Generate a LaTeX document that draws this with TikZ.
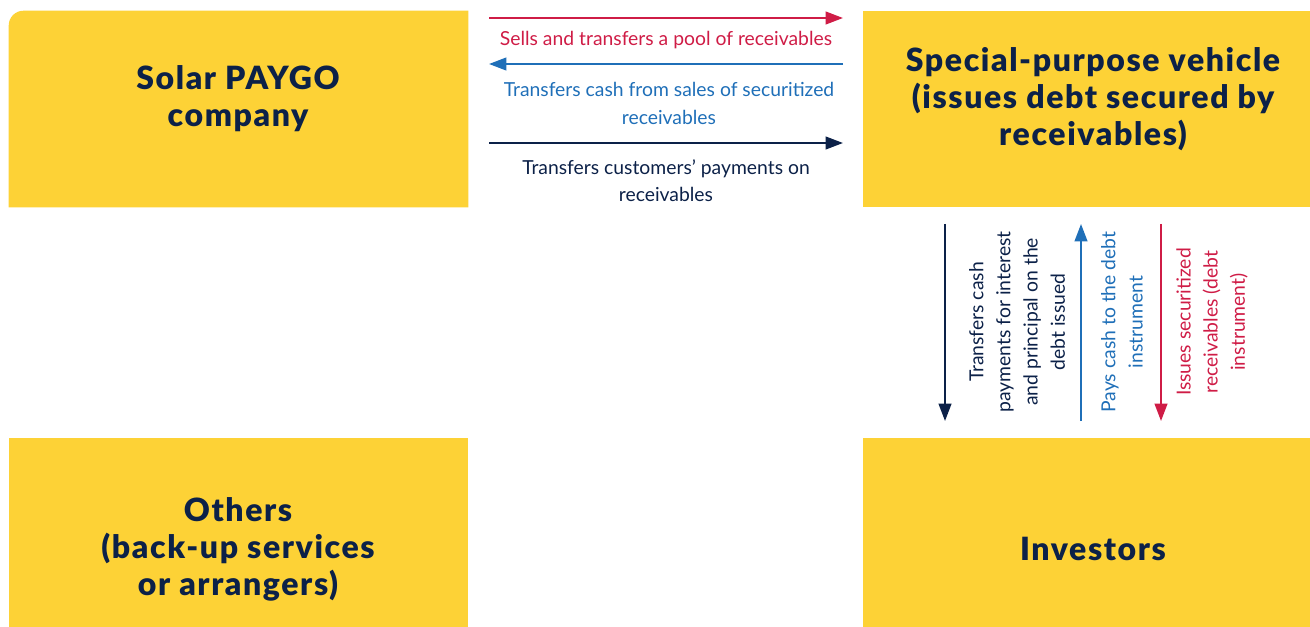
\documentclass[tikz,border=0pt]{standalone}
\usepackage{fontspec}
\setmainfont{Lato}
\newfontfamily\heavyfont{Lato Black}[LetterSpace=5]
\usetikzlibrary{arrows.meta}
\definecolor{boxyellow}{HTML}{FDD236}
\definecolor{navy}{HTML}{0C2148}
\definecolor{crimson}{HTML}{CF1C46}
\definecolor{cashblue}{HTML}{1F6FB8}
\tikzset{
	box/.style={
		fill=boxyellow,
		inner sep=0pt,
	},
	title/.style={
		text=navy,
		align=center,
		font=\heavyfont\fontsize{24}{27.75}\selectfont,
	},
	flow/.style={
		line width=1.5pt,
		-{Triangle[length=13pt,width=9.5pt]}
	},
	flowtext/.style={
		align=center,
		font=\fontsize{14.5}{20.4}\selectfont,
	},
}

\begin{document}
\begin{tikzpicture}[x=0.75pt,y=-0.75pt]
	\useasboundingbox (0,0) rectangle (1310,627);

	% the four parties
	\node[box,fill=none,minimum width=344.25pt,minimum height=147pt] (solar) at (238.5,109) {};
	\fill[boxyellow] (solar.south west) -- ([yshift=-11pt]solar.north west)
		arc[start angle=180,end angle=90,radius=11pt] -- (solar.north east) -- (solar.south east) -- cycle;
	\node[box,minimum width=335.25pt,minimum height=147pt] (spv) at (1086.5,109) {};
	\node[box,minimum width=344.25pt,minimum height=141.75pt] (others) at (238.5,532.5) {};
	\node[box,minimum width=335.25pt,minimum height=141.75pt] (investors) at (1086.5,532.5) {};

	\node[title] (solartxt) at (238,99) {Solar PAYGO\\company};
	\node[title] (spvtxt) at (1093,99) {Special-purpose vehicle\\(issues debt secured by\\receivables)};
	\node[title] (otherstxt) at (238,549) {Others\\(back-up services\\or arrangers)};
	\node[title] (investorstxt) at (1093,549) {Investors};

	% flows between company and vehicle
	\coordinate (sellL) at (489,18);   \coordinate (sellR) at (843,18);
	\coordinate (cashL) at (489,64);   \coordinate (cashR) at (843,64);
	\coordinate (payL)  at (489,143);  \coordinate (payR)  at (843,143);

	\draw[flow,crimson]  (sellL) -- (sellR);
	\draw[flow,cashblue] (cashR) -- (cashL);
	\draw[flow,navy]     (payL) -- (payR);

	\node[flowtext,text=crimson]  (selltxt) at (666,40) {Sells and transfers a pool of receivables};
	\node[flowtext,text=cashblue] (cashtxt) at (669,103.5) {Transfers cash from sales of securitized\\receivables};
	\node[flowtext,text=navy]     (paytxt)  at (666,180.5) {Transfers customers’ payments on\\receivables};

	% flows between vehicle and investors
	\coordinate (debtT)  at (945,224);  \coordinate (debtB)  at (945,421);
	\coordinate (buyT)   at (1081,224); \coordinate (buyB)   at (1081,421);
	\coordinate (issueT) at (1161,224); \coordinate (issueB) at (1161,421);

	\draw[flow,navy]     (debtT) -- (debtB);
	\draw[flow,cashblue] (buyB) -- (buyT);
	\draw[flow,crimson]  (issueT) -- (issueB);

	\node[flowtext,text=navy,rotate=90]     (debttxt)  at (1017,322) {Transfers cash\\payments for interest\\and principal on the\\debt issued};
	\node[flowtext,text=cashblue,rotate=90] (buytxt)   at (1122,322) {Pays cash to the debt\\instrument};
	\node[flowtext,text=crimson,rotate=90]  (issuetxt) at (1212,322) {Issues securitized\\receivables (debt\\instrument)};
\end{tikzpicture}
\end{document}
